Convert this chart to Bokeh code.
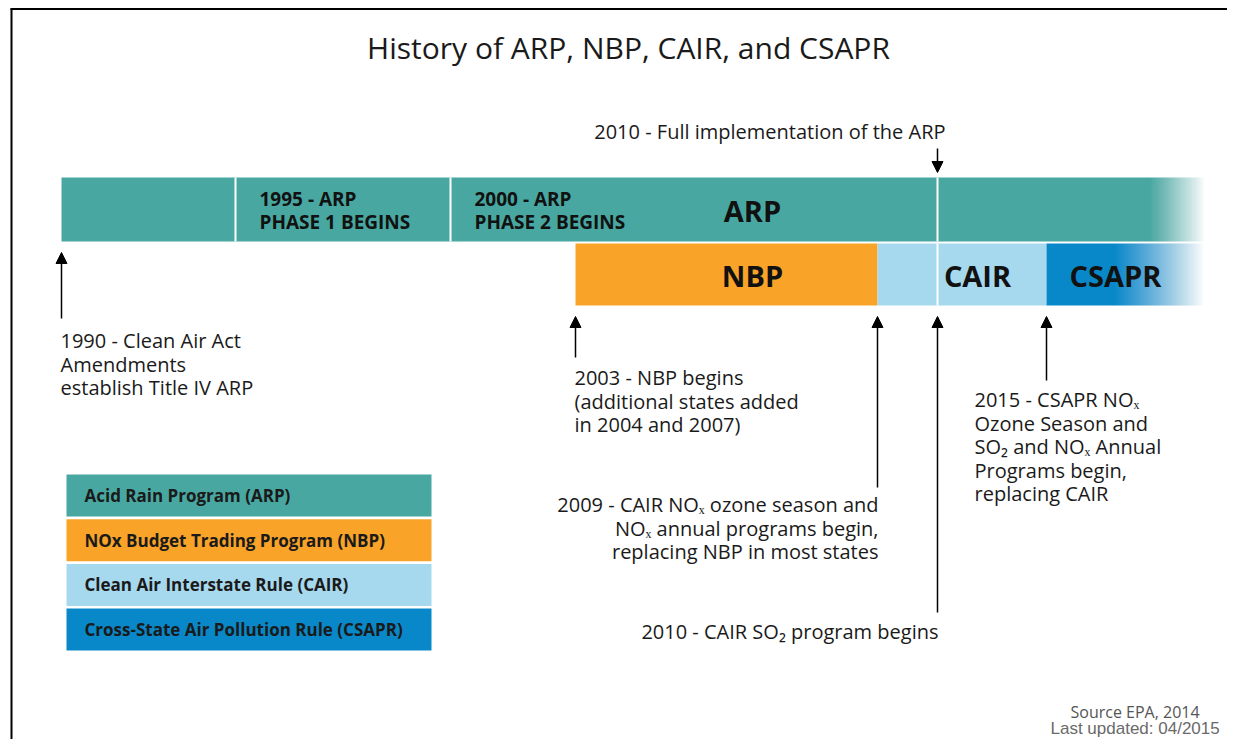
import numpy as np
from bokeh.plotting import figure
from bokeh.models import Range1d, Arrow, NormalHead
from bokeh.core.properties import value
from bokeh.embed import file_html
from bokeh.resources import INLINE

# ---------------- data ----------------
title_text = "History of ARP, NBP, CAIR, and CSAPR"

programs = ["ARP", "NBP", "CAIR", "CSAPR"]
program_names = ["Acid Rain Program (ARP)",
                 "NOx Budget Trading Program (NBP)",
                 "Clean Air Interstate Rule (CAIR)",
                 "Cross-State Air Pollution Rule (CSAPR)"]
program_start = [1990, 2003, 2009, 2015]
program_end = [2017, 2009, 2015, 2017]          # 2017 = open ended (fades out)
program_row = [0, 1, 1, 1]
program_open = [True, False, False, True]
program_colors = ["#48A8A1", "#F9A328", "#A6D8EE", "#0888C8"]

phase_years = [1995, 2000]
phase_labels = [["1995 - ARP", "PHASE 1 BEGINS"],
                ["2000 - ARP", "PHASE 2 BEGINS"]]
divider_years_row0 = [1995, 2000, 2010]
divider_years_row1 = [2010]

top_event_year = 2010
top_event_text = "2010 - Full implementation of the ARP"

event_years = [1990, 2003, 2009, 2010, 2015]
event_texts = [
    ["1990 - Clean Air Act", "Amendments", "establish Title IV ARP"],
    ["2003 - NBP begins", "(additional states added", "in 2004 and 2007)"],
    ["2009 - CAIR NO\u2093 ozone season and", "NO\u2093 annual programs begin,",
     "replacing NBP in most states"],
    ["2010 - CAIR SO\u2082 program begins"],
    ["2015 - CSAPR NO\u2093", "Ozone Season and", "SO\u2082 and NO\u2093 Annual",
     "Programs begin,", "replacing CAIR"],
]

source_text = "Source EPA, 2014"
updated_text = "Last updated: 04/2015"

# ---------------- layout (schematic timeline scale) ----------------
_knots_year = [1990, 1995, 2000, 2003, 2009, 2010, 2015, 2017]
_knots_px = [61, 235, 450, 575, 877, 937, 1046, 1205]


def yx(year):
    return float(np.interp(year, _knots_year, _knots_px))


row_top = [177, 243]
row_bot = [241, 305]
fade_width = {"ARP": 55, "CSAPR": 90}
program_label_x = [752, 752, 977, 1115]

event_align = ["left", "left", "right", "right", "left"]
event_text_dx = [-1, -1, 1, 1, -72]
event_text_y0 = [340, 377, 504, 631, 399]
event_tail_y = [318, 357, 487, 612, 380]
line_step = 23.5

W, H = 1227, 739
p = figure(width=W, height=H, x_range=Range1d(0, W), y_range=Range1d(H, 0),
           output_backend="svg", toolbar_location=None, min_border=0)
p.axis.visible = False
p.grid.visible = False
p.outline_line_color = None
p.background_fill_color = "white"

FONT = value("Open Sans")

# frame lines (top & left)
p.segment(x0=[10, 11], y0=[8.5, 8], x1=[W, 11], y1=[8.5, H], line_color="black", line_width=2)

# title
p.text(x=[628], y=[47], text=[title_text], text_font=FONT, text_font_size="30px",
       text_align="center", text_baseline="middle", text_color="#1a1a1a")

# program bars
for name, s, e, r, open_, col in zip(programs, program_start, program_end, program_row,
                                     program_open, program_colors):
    x0, x1 = yx(s), yx(e)
    p.quad(left=[x0], right=[x1 + 2 if open_ else x1], top=[row_top[r]], bottom=[row_bot[r]],
           fill_color=col, line_color=None)
    if open_:
        # fade to white: nested white overlays, all ending at the bar's end
        n = 45
        fstart = x1 - fade_width[name]
        lefts = fstart + np.arange(n) * (fade_width[name] / n)
        w = np.arange(1, n + 1) / n            # target whiteness after k overlays
        w_prev = np.concatenate([[0.0], w[:-1]])
        a = 1.0 - (1.0 - w) / (1.0 - w_prev)
        p.quad(left=lefts, right=x1 + 3, top=row_top[r] - 0.5, bottom=row_bot[r] + 0.5,
               fill_color="white", fill_alpha=a, line_color=None)

# white dividers
p.segment(x0=[yx(y) for y in divider_years_row0], x1=[yx(y) for y in divider_years_row0],
          y0=row_top[0], y1=row_bot[0], line_color="white", line_width=2)
p.segment(x0=[yx(y) for y in divider_years_row1], x1=[yx(y) for y in divider_years_row1],
          y0=row_top[1], y1=row_bot[1], line_color="white", line_width=2)

# bar labels
for lx, name, r in zip(program_label_x, programs, program_row):
    p.text(x=[lx], y=[(row_top[r] + row_bot[r]) / 2 + 1], text=[name], text_font=FONT,
           text_font_size="29px", text_font_style="bold", text_align="center",
           text_baseline="middle", text_color="#111111")

for yr, lines in zip(phase_years, phase_labels):
    p.text(x=[yx(yr) + 24] * 2, y=[198, 221], text=lines, text_font=FONT,
           text_font_size="19px", text_font_style="bold", text_align="left",
           text_baseline="middle", text_color="#111111")

# top event
tx = yx(top_event_year)
p.text(x=[tx + 8], y=[131], text=[top_event_text], text_font=FONT, text_font_size="20px",
       text_align="right", text_baseline="middle", text_color="#1a1a1a")
p.add_layout(Arrow(end=NormalHead(size=11, fill_color="black", line_color="black"),
                   x_start=tx, y_start=148, x_end=tx, y_end=172,
                   line_color="black", line_width=1.5))

# bottom events
for yr, lines, al, dx, ty0, tail in zip(event_years, event_texts, event_align, event_text_dx,
                                        event_text_y0, event_tail_y):
    ax = yx(yr)
    covered = [r for r, s, e in zip(program_row, program_start, program_end) if s <= yr <= e]
    tip = max(row_bot[r] for r in covered) + 11
    p.add_layout(Arrow(end=NormalHead(size=11, fill_color="black", line_color="black"),
                       x_start=ax, y_start=tail, x_end=ax, y_end=tip,
                       line_color="black", line_width=1.5))
    p.text(x=[ax + dx] * len(lines), y=[ty0 + i * line_step for i in range(len(lines))],
           text=lines, text_font=FONT, text_font_size="20px", text_align=al,
           text_baseline="middle", text_color="#1a1a1a")

# legend
leg_top0, leg_step, leg_h = 474, 44.7, 42
for i, (nm, col) in enumerate(zip(program_names, program_colors)):
    t = leg_top0 + i * leg_step
    p.quad(left=[66], right=[431], top=[t], bottom=[t + leg_h], fill_color=col, line_color=None)
    p.text(x=[84], y=[t + leg_h / 2], text=[nm], text_font=FONT, text_font_size="17px",
           text_font_style="bold", text_align="left", text_baseline="middle",
           text_color="#1a1a1a")

# source notes
p.text(x=[1070], y=[711], text=[source_text], text_font=FONT, text_font_size="16px",
       text_align="left", text_baseline="middle", text_color="#555555")
p.text(x=[1050], y=[728], text=[updated_text], text_font=value("Liberation Sans"),
       text_font_size="17px", text_align="left", text_baseline="middle", text_color="#6a6a6a")

open("out.html", "w").write(file_html(p, INLINE))
